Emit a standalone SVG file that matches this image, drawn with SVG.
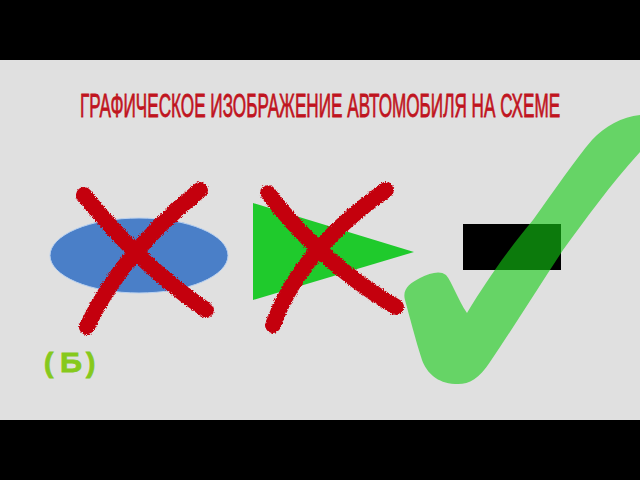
<svg xmlns="http://www.w3.org/2000/svg" width="640" height="480" viewBox="0 0 640 480">
<defs>
<style>
.x{fill:none;stroke:#c40010;stroke-width:16;stroke-linecap:round}
.title{font-family:"Liberation Sans",Arial,sans-serif;font-size:33px;fill:#c01420;stroke:#c01420;stroke-width:0.8}
.lab{font-family:"Liberation Sans",Arial,sans-serif;font-weight:bold;font-size:28px;fill:#86c91c;stroke:#86c91c;stroke-width:0.8}
</style>
<filter id="rough" x="-10%" y="-10%" width="120%" height="120%">
<feTurbulence type="fractalNoise" baseFrequency="0.9" numOctaves="2" seed="3" result="n"/>
<feDisplacementMap in="SourceGraphic" in2="n" scale="4" xChannelSelector="R" yChannelSelector="G"/>
</filter>
</defs>
<rect width="640" height="480" fill="#e0e0e0"/>
<rect width="640" height="60" fill="#000"/>
<rect y="420" width="640" height="60" fill="#000"/>
<g id="title" transform="matrix(0.55 0 0 1 80 117)"><text class="title" x="0" y="0" textLength="873" lengthAdjust="spacingAndGlyphs">ГРАФИЧЕСКОЕ ИЗОБРАЖЕНИЕ АВТОМОБИЛЯ НА СХЕМЕ</text></g>
<g id="ellipse"><ellipse cx="139" cy="255.5" rx="89" ry="37.5" fill="#4a7fc8" stroke="#b9d1f0" stroke-width="1"/></g>
<g id="cross1" filter="url(#rough)">
<path class="x" d="M84,195 Q140,265 206,310"/>
<path class="x" d="M200,190 Q120,255 87,327"/>
</g>
<g id="triangle"><polygon points="253,203 414,252 253,300" fill="#1fca2c"/></g>
<g id="cross2" filter="url(#rough)">
<path class="x" d="M268,193 Q320,262 396,307"/>
<path class="x" d="M386,190 Q300,250 273,325"/>
</g>
<g id="rect"><rect x="463" y="224" width="98" height="46" fill="#000"/></g>
<g id="check"><path d="M467,313 C490,275 512,245 533,220 C556,188 575,160 592,140 C605,126 622,117 640,115 L660,112 L660,140 L640,152 C610,185 585,220 563,250 C540,285 515,325 490,362 C478,380 468,385 455,384 C437,383 427,373 422,360 C415,338 410,318 405,300 C402,289 410,283 420,278 C430,273 440,270 446,275 C452,282 458,300 467,313 Z" fill="#14cb14" fill-opacity="0.6"/></g>
<g id="label"><text class="lab" y="372"><tspan x="44">(</tspan><tspan x="60" textLength="22" lengthAdjust="spacingAndGlyphs">Б</tspan><tspan x="86">)</tspan></text></g>
</svg>
